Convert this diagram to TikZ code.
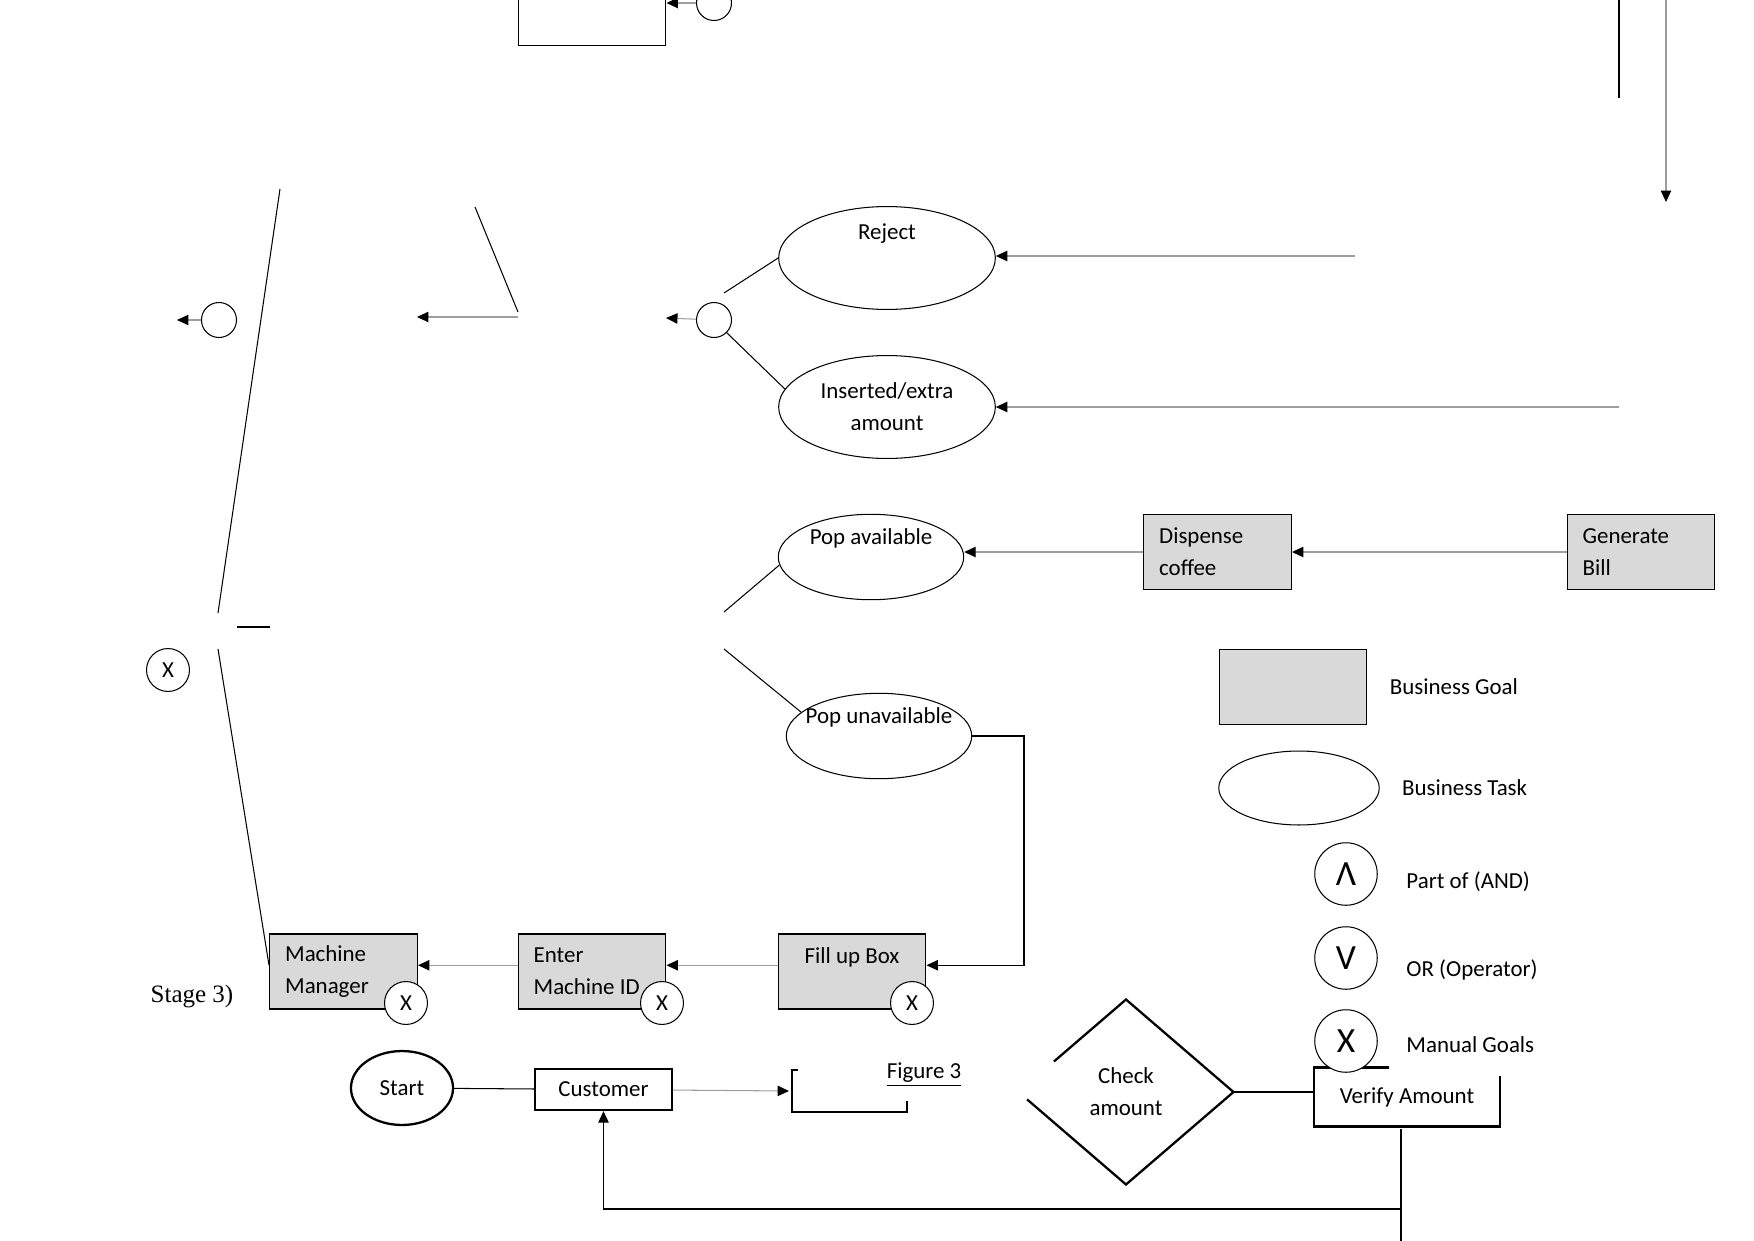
\documentclass[tikz,border=0pt]{standalone}
\usepackage{fontspec}
\setmainfont{Carlito}
\newfontfamily\stagefont{Liberation Serif}
\usetikzlibrary{arrows.meta, positioning, shapes.geometric, calc}
\definecolor{cgoal}{HTML}{D9D9D9}
\definecolor{cline}{HTML}{9E9E9E}
\tikzset{
  every picture/.style={font=\fontsize{11}{15.4}\selectfont, line width=0.5pt},
  goal/.style={draw, fill=cgoal, minimum width=71pt, minimum height=36pt, inner xsep=7.5pt, inner ysep=0pt, text width=56pt, align=flush left},
  task/.style={draw, ellipse, inner sep=-6pt, align=flush center},
  opcirc/.style={draw, circle, minimum size=16.8pt, inner sep=0pt},
  xcirc/.style={draw, circle, fill=white, minimum size=20.6pt, inner sep=0pt},
  legcirc/.style={draw, circle, fill=white, minimum size=30pt, inner sep=0pt, font=\fontsize{17}{20}\selectfont},
  legtext/.style={inner sep=0pt},
  arrow/.style={-{Triangle[length=5.5pt, width=5pt, color=black]}, draw=cline, line width=0.5pt},
  blackarrow/.style={-{Triangle[length=5.5pt, width=5pt]}, draw=black, line width=0.5pt},
  plain/.style={draw=black, line width=0.5pt},
  bold/.style={draw=black, line width=1.1pt},
}

\begin{document}
\begin{tikzpicture}[x=0.48pt, y=-0.48pt]
  \useasboundingbox (0,0) rectangle (1754,1241);
  \clip (0,0) rectangle (1754,1241);

  % cut off at the top
  \node[draw, minimum width=71pt, minimum height=36pt, inner sep=0pt] (topbox) at (592,8) {};
  \node[opcirc] (topor) at (714,3) {};
  \draw[arrow] (topor) -- (topbox.east |- topor);
  \coordinate (rtA) at (1619,0); \coordinate (rtB) at (1619,98);
  \draw[plain] (rtA) -- (rtB);
  \coordinate (rtC) at (1666,0); \coordinate (rtD) at (1666,202);
  \draw[arrow] (rtC) -- (rtD);

  % business tasks
  \node[task, minimum width=104pt, minimum height=49.4pt] (rej) at (887,258) {Reject\\[10pt]\mbox{}};
  \node[task, minimum width=104pt, minimum height=49.4pt] (ins) at (887,407) {Inserted/extra\\amount};
  \node[task, minimum width=89pt, minimum height=41pt] (popa) at (871,557) {Pop available\\[3.8pt]\mbox{}};
  \node[task, minimum width=89pt, minimum height=41pt] (popu) at (879,736) {Pop unavailable\\[3.8pt]\mbox{}};
  \coordinate (rejsrc) at (1355,256); \coordinate (inssrc) at (1619,407);
  \draw[arrow] (rejsrc) -- (rejsrc -| rej.east);
  \draw[arrow] (inssrc) -- (ins.east);

  \node[opcirc] (orM) at (714,320) {};
  \draw[plain] ([shift={(10,-27)}]orM.center) -- (rej.west);
  \draw[plain] (orM.south east) -- (ins.170);
  \coordinate (midR) at (666,318);
  \draw[arrow] (orM) -- (midR);

  \coordinate (midA) at (518,317); \coordinate (midB) at (417,317);
  \draw[arrow] (midA) -- (midB);
  \coordinate (midC) at (475,207); \coordinate (midD) at (518,312);
  \draw[plain] (midC) -- (midD);

  % left side
  \node[opcirc] (orL) at (219,320) {};
  \coordinate (orLout) at (177,320);
  \draw[arrow] (orL) -- (orLout);
  \coordinate (lnA) at (280,189); \coordinate (lnB) at (218,613);
  \draw[plain] (lnA) -- (lnB);
  \coordinate (lnC) at (237,627); \coordinate (lnD) at (270,627);
  \draw[plain] (lnC) -- (lnD);
  \node[xcirc] (xleft) at (168,670) {X};

  % goals
  \node[goal] (disp) at (1217.5,552) {Dispense\\coffee};
  \node[goal] (gen) at (1641,552) {Generate\\Bill};
  \draw[arrow] (gen) -- (disp);
  \draw[arrow] (disp.west) -- (popa.east |- disp.west);
  \coordinate (popaL) at (724,612); \coordinate (popuL) at (724,649);
  \draw[plain] (popaL) -- (popa.185);
  \draw[plain] (popuL) -- (popu.163);

  % stage 3
  \node[goal] (mm) at (343.5,971.5) {Machine\\Manager};
  \node[goal] (eid) at (592,971.5) {Enter\\Machine ID};
  \node[goal, align=flush center] (fill) at (852,971.5) {Fill up Box\\\mbox{}};
  \draw[arrow] ([yshift=3pt]fill.west) -- ([yshift=3pt]eid.east);
  \draw[arrow] ([yshift=3pt]eid.west) -- ([yshift=3pt]mm.east);
  \coordinate (popuR) at (1024,736);
  \draw[blackarrow] (popu.east) -- (popu.east -| popuR) |- ([yshift=3pt]fill.east);
  \coordinate (lnE) at (218,649);
  \draw[plain] (lnE) -- ([yshift=3pt]mm.west);
  \node[xcirc] (xmm) at (406,1003) {X};
  \node[xcirc] (xeid) at (662,1003) {X};
  \node[xcirc] (xfill) at (912,1003) {X};
  \node[font=\stagefont\fontsize{12}{14}\selectfont] (stage) at (192,997) {Stage 3)};

  % bottom row
  \node[draw, ellipse, line width=1.1pt, minimum width=49pt, minimum height=35.5pt, inner sep=0pt] (start) at (402,1088) {Start};
  \node[draw, line width=1.1pt, minimum width=65.8pt, minimum height=19.7pt, inner sep=0pt] (cust) at (603.5,1089.5) {\raisebox{-2pt}{Customer}};
  \draw[plain] (start) -- (cust);
  \coordinate (coins) at (792,1070);
  \draw[arrow] (cust) -- ($(coins)+(-3,21)$);
  \draw[bold] ($(coins)+(6,0)$) -- (coins) -- ++(0,42) -- ++(115,0) -- ++(0,-11);
  \node (fig) at (924,1075) {\underline{Figure 3}};

  \node[diamond, minimum width=102.7pt, minimum height=88.3pt, inner sep=0pt, align=flush center] (chk) at (1126,1092) {Check\\amount};
  \draw[bold] ($(chk.west)!0.33!(chk.north)$) -- (chk.north) -- (chk.east) -- (chk.south) -- ($(chk.west)!0.08!(chk.south)$);
  \node[minimum width=88.8pt, minimum height=27.8pt, inner sep=0pt] (ver) at (1407,1097) {Verify Amount};
  \draw[bold] ($(ver.north west)+(75,0)$) -- (ver.north west) -- (ver.south west) -- (ver.south east) -- ($(ver.north east)+(0,8)$);
  \draw[plain] (chk.east) -- (chk.east -| ver.west);
  \coordinate (loopT) at (1401,1129); \coordinate (loopB) at (1401,1241); \coordinate (loopC) at (1401,1209);
  \draw[plain] (loopT) -- (loopB);
  \draw[blackarrow] (loopC) -| (cust.south);

  % legend
  \node[goal] (leggoal) at (1293,687) {};
  \node[legtext, right=10.5pt of leggoal] (lgoal) {Business Goal};
  \node[task, minimum width=77pt, minimum height=35.5pt] (legtask) at (1299,788) {};
  \node[legtext, right=10.5pt of legtask] (ltask) {Business Task};
  \node[legcirc] (legand) at (1346,874) {Λ};
  \node[legtext, right=13.5pt of legand, yshift=-3.8pt] (land) {Part of (AND)};
  \node[legcirc] (legor) at (1346,958) {V};
  \node[legtext, right=13.5pt of legor, yshift=-5.8pt] (lor) {OR (Operator)};
  \node[legcirc] (legx) at (1346,1041) {X};
  \node[legtext, right=13.5pt of legx, yshift=-1.6pt] (lx) {Manual Goals};
\end{tikzpicture}
\end{document}
